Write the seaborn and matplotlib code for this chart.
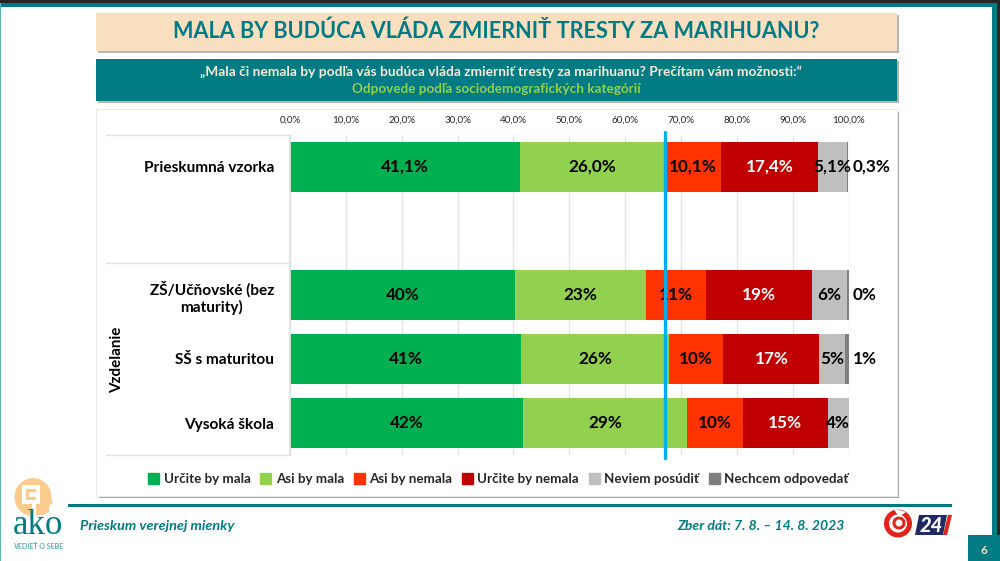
import numpy as np
import pandas as pd
import matplotlib
matplotlib.use("Agg")
import matplotlib.pyplot as plt
from matplotlib.patches import Rectangle, Polygon, Ellipse, Wedge, Patch
import seaborn as sns

# ---------- data ----------
categories = ["Prieskumná vzorka", " ", "ZŠ/Učňovské (bez\nmaturity)", "SŠ s maturitou", "Vysoká škola"]
series = ["Určite by mala", "Asi by mala", "Asi by nemala", "Určite by nemala", "Neviem posúdiť", "Nechcem odpovedať"]
colors = ["#00B050", "#92D050", "#FF3300", "#C00000", "#BFBFBF", "#7F7F7F"]
urcite_mala = [41.1, 0, 40.3, 41.4, 41.7]
asi_mala = [26.0, 0, 23.5, 26.4, 29.4]
asi_nemala = [10.1, 0, 10.7, 9.8, 10.0]
urcite_nemala = [17.4, 0, 18.9, 17.2, 15.2]
neviem = [5.1, 0, 6.3, 4.6, 3.7]
nechcem = [0.3, 0, 0.3, 0.6, 0.0]
labels_a = ["41,1%", "", "40%", "41%", "42%"]
labels_b = ["26,0%", "", "23%", "26%", "29%"]
labels_c = ["10,1%", "", "11%", "10%", "10%"]
labels_d = ["17,4%", "", "19%", "17%", "15%"]
labels_e = ["5,1%", "", "6%", "5%", "4%"]
labels_f = ["0,3%", "", "0%", "1%", ""]
tick_values = [0, 10, 20, 30, 40, 50, 60, 70, 80, 90, 100]
tick_labels = ["0,0%", "10,0%", "20,0%", "30,0%", "40,0%", "50,0%", "60,0%", "70,0%", "80,0%", "90,0%", "100,0%"]

values = [urcite_mala, asi_mala, asi_nemala, urcite_nemala, neviem, nechcem]
labels = [labels_a, labels_b, labels_c, labels_d, labels_e, labels_f]

long = pd.DataFrame(
    [(c, s, values[j][i]) for i, c in enumerate(categories) for j, s in enumerate(series)],
    columns=["cat", "series", "value"],
)

# ---------- page ----------
sns.set_theme(style="white")
plt.rcParams["font.family"] = ["Lato", "DejaVu Sans"]
W, H = 1000, 561
TEAL = "#007A83"
fig = plt.figure(figsize=(W / 100, H / 100), dpi=100, facecolor="white")

bg = fig.add_axes([0, 0, 1, 1], zorder=0)
bg.set_xlim(0, W)
bg.set_ylim(H, 0)
bg.axis("off")


def box(x0, y0, x1, y1, **kw):
    bg.add_patch(Rectangle((x0, y0), x1 - x0, y1 - y0, linewidth=0, **kw))


box(0, 0, 1000, 3, color="#262626")
box(0, 3, 1000, 7, color=TEAL)
box(992, 3, 997, 561, color=TEAL)
box(997, 0, 1000, 535, color="#262626")
box(0, 3, 1.3, 561, color="#5FAFB5")
box(968, 535, 1000, 561, color=TEAL)
bg.text(984, 550, "6", color="#F7DFC0", fontsize=8.5, fontweight="bold", ha="center", va="center")

# title and subtitle boxes with shadow
box(98, 15, 899, 52.5, color="#B5B5B5")
box(96, 13, 897, 50.5, color="#F7DFC0")
bg.text(496.5, 31.5, "MALA BY BUDÚCA VLÁDA ZMIERNIŤ TRESTY ZA MARIHUANU?", color=TEAL,
        fontsize=15.6, fontweight="bold", ha="center", va="center")
box(98, 61, 899, 103, color="#B5B5B5")
box(96, 59, 897, 101, color=TEAL)
bg.text(500.5, 71.5, "„Mala či nemala by podľa vás budúca vláda zmierniť tresty za marihuanu? Prečítam vám možnosti:“",
        color="#F7EBD8", fontsize=9.9, fontweight="bold", ha="center", va="center")
bg.text(496, 88.5, "Odpovede podľa sociodemografických kategórií", color="#92D050",
        fontsize=9.7, fontweight="bold", ha="center", va="center")

# chart card
box(98.5, 111.5, 899, 498, color="#A8A8A8")
box(95.5, 108.5, 897.5, 496.5, color="#E8E8E8")
box(97, 110, 897, 495.5, color="white")
GRID = "#E2E2E2"
bg.plot([106, 290], [135, 135], color=GRID, lw=1)
bg.plot([106, 290], [263, 263], color=GRID, lw=1)
bg.plot([106, 290], [455, 455], color=GRID, lw=1)
bg.text(117, 360, "Vzdelanie", rotation=90, fontsize=10.9, fontweight="bold", color="black",
        ha="center", va="center")

# footer
box(68, 504.2, 952, 507.4, color=TEAL)
bg.text(80, 525.5, "Prieskum verejnej mienky", color=TEAL, fontsize=10.4, fontweight="bold",
        style="italic", ha="left", va="center")
bg.text(845, 525.5, "Zber dát: 7. 8. – 14. 8. 2023", color=TEAL, fontsize=10.1, fontweight="bold",
        style="italic", ha="right", va="center")

# ako mark
PEACH = "#FBCB8F"
bg.add_patch(Ellipse((33, 497), 37, 38, color=PEACH, lw=0))
bg.add_patch(Polygon([(47, 490), (53, 503), (49, 505), (49, 512), (43, 515), (36, 514), (30, 520), (30, 505)],
                     color=PEACH, lw=0))
box(22, 485, 40, 504, color="white")
box(26, 489, 36, 500, color=PEACH)
box(29, 492, 36, 497, color="white")
box(32, 503, 36, 520, color="white")
bg.text(38, 526, "ako", color=TEAL, fontsize=25, family="Liberation Serif", ha="center", va="center")
bg.text(38.5, 546.5, "VEDIEŤ O SEBE", color="#5FA8AE", fontsize=5, fontweight="bold", ha="center", va="center")

# TV mark
bg.add_patch(Wedge((898, 523.5), 14, 0, 360, width=5, color="#E2231A", lw=0))
bg.add_patch(Wedge((899, 523), 6.5, 0, 360, width=3, color="#E2231A", lw=0))
bg.add_patch(Polygon([(893, 508), (906, 512), (899, 517)], color="white", lw=0))
bg.add_patch(Polygon([(919, 515), (947, 515), (943, 535), (915, 535)], color="#1F2A63", lw=0))
bg.add_patch(Polygon([(948, 515), (952, 515), (947, 535), (943, 535)], color="#E2231A", lw=0))
bg.text(931, 525, "24", color="white", fontsize=14.5, fontweight="black", style="italic",
        ha="center", va="center")

# ---------- chart ----------
ax = fig.add_axes([290 / W, 1 - 455 / H, 558.5 / W, 320 / H], zorder=2)
ax.patch.set_alpha(0)
sns.histplot(
    data=long, y="cat", hue="series", weights="value", multiple="stack", discrete=True, shrink=0.766,
    hue_order=series[::-1], palette=dict(zip(series, colors)), alpha=1, linewidth=0,
    legend=False, ax=ax, zorder=2,
)
ax.set_xlim(0, 100)
ax.set_ylim(4.5, -0.5)
ax.set_xlabel("")
ax.set_ylabel("")
ax.xaxis.tick_top()
ax.set_xticks(tick_values, tick_labels, fontsize=7.1, color="#262626")
ax.set_yticks(range(len(categories)), categories, fontsize=11.1, fontweight="bold", color="black",
              multialignment="center")
ax.tick_params(axis="x", length=0, pad=7.5)
ax.tick_params(axis="y", length=0, pad=11.5)
ax.set_axisbelow(True)
ax.grid(axis="x", color=GRID, lw=1, zorder=0)
ax.grid(axis="y", visible=False)
for name, sp in ax.spines.items():
    sp.set_visible(name == "left")
    sp.set_color(GRID)

# value labels
val = np.array(values)
cum = val.cumsum(axis=0)
for j in range(len(series)):
    for i in range(len(categories)):
        txt = labels[j][i]
        if not txt:
            continue
        x = cum[j, i] - val[j, i] / 2
        if j == len(series) - 1:
            x = 100 + 2.9 + (1.3 if "," in txt else 0)
        ax.text(x, i, txt, fontsize=12.3, fontweight="bold", ha="center", va="center",
                color="white" if j == 3 else "black", zorder=4, clip_on=False)

# reference line at the sample's total agreement
ax.axvline(cum[1, 0], ymin=-0.009, ymax=1.009, color="#00AEEF", lw=2.4, zorder=5, clip_on=False)

handles = [Patch(color=c, label=s) for s, c in zip(series, colors)]
leg = ax.legend(handles=handles, ncol=6, frameon=False, loc="center", bbox_to_anchor=(0.3733, -0.0755),
                prop={"weight": "bold", "size": 9.6}, handlelength=0.8, handleheight=0.8,
                handletextpad=0.35, columnspacing=0.74, borderpad=0, borderaxespad=0)

fig.savefig("out.png", dpi=100)
